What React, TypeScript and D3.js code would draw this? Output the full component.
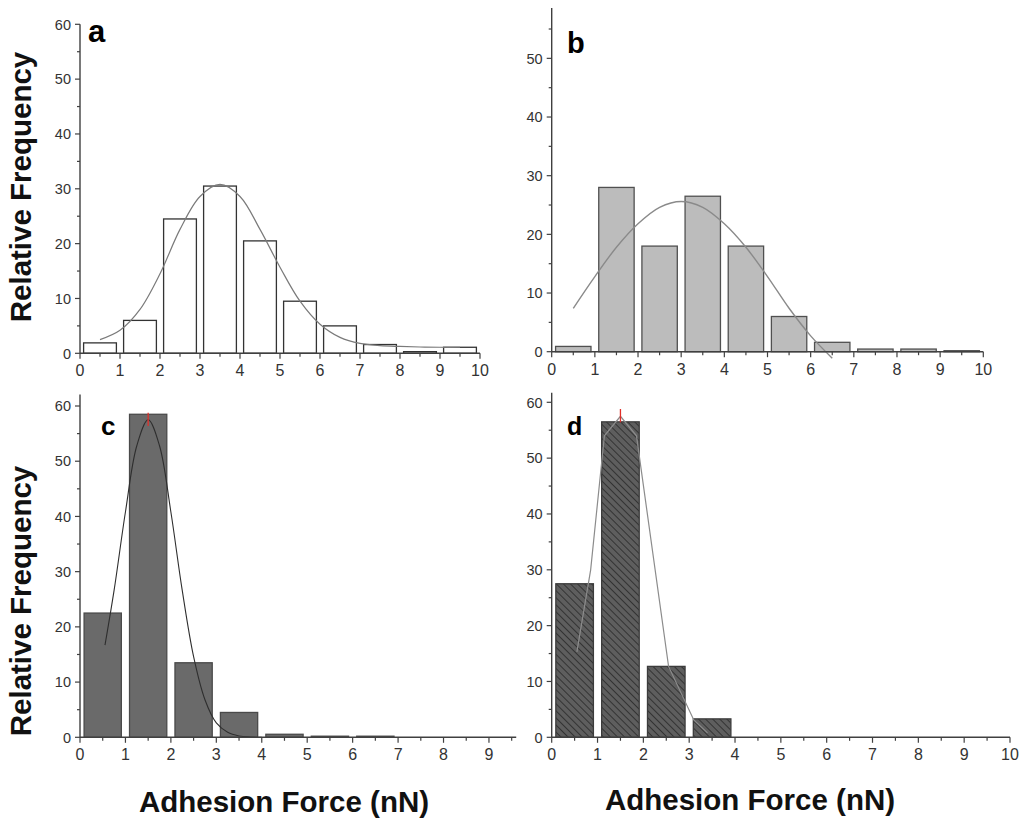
import React from "react";
import * as d3 from "d3";

// ---------- data ----------
const binStarts = [0, 1, 2, 3, 4, 5, 6, 7, 8, 9];
const freqA = [1.9, 6.0, 24.5, 30.5, 20.5, 9.5, 5.0, 1.6, 0.3, 1.1];
const freqB = [0.9, 28.0, 18.0, 26.5, 18.0, 6.0, 1.6, 0.45, 0.45, 0.17];
const freqC = [22.5, 58.5, 13.5, 4.5, 0.55, 0.2, 0.2];
const freqD = [27.5, 56.5, 12.7, 3.3];

const fitAx = [0.5, 1, 1.5, 2, 2.5, 3, 3.5, 4, 4.5, 5, 5.5, 6, 6.5, 7, 7.5, 8, 8.5, 9, 9.5];
const fitAy = [2.5, 4.2, 8.0, 14.5, 22.6, 28.6, 30.8, 28.6, 22.6, 15.7, 9.5, 5.3, 2.9, 1.8, 1.4, 1.25, 1.15, 1.1, 1.1];
const fitBx = [0.5, 1, 1.5, 2, 2.5, 3, 3.5, 4, 4.5, 5, 5.5, 6, 6.5];
const fitBy = [7.4, 12.8, 17.8, 21.8, 24.6, 25.6, 24.6, 21.8, 17.8, 12.8, 7.4, 2.7, -1.1];
const fitCx = [0.55, 0.75, 1, 1.25, 1.5, 1.75, 2, 2.25, 2.5, 2.75, 3, 3.25, 3.5, 3.75, 4];
const fitCy = [16.7, 26.6, 40.8, 52.8, 57.5, 52.8, 40.8, 26.6, 14.6, 6.8, 2.6, 0.9, 0.25, 0.05, 0];
const fitDx = [0.55, 0.85, 1.15, 1.5, 1.85, 2.55, 3.1, 3.4];
const fitDy = [15.3, 30.0, 54.0, 57.5, 54.0, 12.7, 3.1, 0.8];

const xTicks10 = [0, 1, 2, 3, 4, 5, 6, 7, 8, 9, 10];
const xTicks9 = [0, 1, 2, 3, 4, 5, 6, 7, 8, 9];
const yTicks60 = [0, 10, 20, 30, 40, 50, 60];
const yTicks50 = [0, 10, 20, 30, 40, 50];

const yTitle = "Relative Frequency";
const xTitle = "Adhesion Force (nN)";

const FONT = "'Liberation Sans', Arial, Helvetica, sans-serif";

type PanelCfg = {
  letter: string;
  letterX: number;
  letterY: number;
  letterSize: number;
  xPx: [number, number]; // px for value 0 and 10
  yPx: [number, number]; // px for value 0 and 60
  xEnd: number;
  yEnd: number;
  xTicks: number[];
  yTicks: number[];
  freq: number[];
  fitX: number[];
  fitY: number[];
  fill: string;
  stroke: string;
  fitColor: string;
  fitWidth: number;
  smooth: boolean;
  redMark: boolean;
};

const panels: PanelCfg[] = [
  {
    letter: "a", letterX: 88, letterY: 42, letterSize: 31,
    xPx: [80, 480], yPx: [353.3, 24.3], xEnd: 10, yEnd: 60,
    xTicks: xTicks10, yTicks: yTicks60, freq: freqA, fitX: fitAx, fitY: fitAy,
    fill: "#ffffff", stroke: "#333333", fitColor: "#7a7a7a", fitWidth: 1.2, smooth: true, redMark: false,
  },
  {
    letter: "b", letterX: 567, letterY: 53, letterSize: 29,
    xPx: [551.7, 983.3], yPx: [351.7, 351.7 - 6 * 58.67], xEnd: 10, yEnd: 58.6,
    xTicks: xTicks10, yTicks: yTicks50, freq: freqB, fitX: fitBx, fitY: fitBy,
    fill: "#bcbcbc", stroke: "#505050", fitColor: "#8a8a8a", fitWidth: 1.4, smooth: true, redMark: false,
  },
  {
    letter: "c", letterX: 101, letterY: 435, letterSize: 26,
    xPx: [80, 80 + 454.4], yPx: [737.3, 406], xEnd: 9.6, yEnd: 62.1,
    xTicks: xTicks9, yTicks: yTicks60, freq: freqC, fitX: fitCx, fitY: fitCy,
    fill: "#6a6a6a", stroke: "#4a4a4a", fitColor: "#2e2e2e", fitWidth: 1.1, smooth: true, redMark: true,
  },
  {
    letter: "d", letterX: 567, letterY: 435, letterSize: 25,
    xPx: [551.7, 1010], yPx: [737.3, 402.3], xEnd: 10, yEnd: 61.7,
    xTicks: xTicks10, yTicks: yTicks60, freq: freqD, fitX: fitDx, fitY: fitDy,
    fill: "url(#hatchD)", stroke: "#3c3c3c", fitColor: "#8c8c8c", fitWidth: 1.2, smooth: false, redMark: true,
  },
];

function Panel({ cfg }: { cfg: PanelCfg }) {
  const x = d3.scaleLinear().domain([0, 10]).range(cfg.xPx);
  const y = d3.scaleLinear().domain([0, 60]).range(cfg.yPx);
  const y0 = y(0);
  const x0 = x(0);
  const pad = 0.09;
  const line = d3
    .line<number>()
    .x((_, i) => x(cfg.fitX[i]))
    .y((v) => y(v))
    .curve(cfg.smooth ? d3.curveCatmullRom.alpha(0.5) : d3.curveLinear);
  const xMinor = d3.range(0, cfg.xEnd + 0.001, 0.5);
  const yMinor = d3.range(5, cfg.yEnd, 10);
  const axisColor = "#404040";
  const peakIdx = cfg.fitY.indexOf(d3.max(cfg.fitY) as number);
  return (
    <g>
      {cfg.freq.map((v, i) => (
        <rect
          key={i}
          x={x(binStarts[i] + pad)}
          y={y(v)}
          width={x(binStarts[i] + 1 - pad) - x(binStarts[i] + pad)}
          height={Math.max(0, y0 - y(v))}
          fill={cfg.fill}
          stroke={cfg.stroke}
          strokeWidth={1.3}
        />
      ))}
      <path d={line(cfg.fitY) || ""} fill="none" stroke={cfg.fitColor} strokeWidth={cfg.fitWidth} />
      {cfg.redMark && (
        <line
          x1={x(cfg.fitX[peakIdx])}
          x2={x(cfg.fitX[peakIdx])}
          y1={y(cfg.fitY[peakIdx] - 1.1)}
          y2={y(cfg.fitY[peakIdx] + 1.3)}
          stroke="#e0302a"
          strokeWidth={1.3}
        />
      )}
      {/* axes */}
      <line x1={x0} x2={x0} y1={y0} y2={y(cfg.yEnd)} stroke={axisColor} strokeWidth={1.4} />
      <line x1={x0} x2={x(cfg.xEnd)} y1={y0} y2={y0} stroke={axisColor} strokeWidth={1.4} />
      {xMinor.map((t) => (
        <line key={"xm" + t} x1={x(t)} x2={x(t)} y1={y0} y2={y0 + (Number.isInteger(t) ? 5.5 : 3.5)} stroke={axisColor} strokeWidth={1.2} />
      ))}
      {cfg.yTicks.map((t) => (
        <line key={"yM" + t} x1={x0 - 5} x2={x0} y1={y(t)} y2={y(t)} stroke={axisColor} strokeWidth={1.2} />
      ))}
      {yMinor.map((t) => (
        <line key={"ym" + t} x1={x0 - 3} x2={x0} y1={y(t)} y2={y(t)} stroke={axisColor} strokeWidth={1.2} />
      ))}
      {cfg.xTicks.map((t) => (
        <text key={"xl" + t} x={x(t)} y={y0 + 23} textAnchor="middle" fontSize={16} fill="#333" fontFamily={FONT}>
          {t}
        </text>
      ))}
      {cfg.yTicks.map((t) => (
        <text key={"yl" + t} x={x0 - 9} y={y(t)} dy="0.36em" textAnchor="end" fontSize={14.5} fill="#333" fontFamily={FONT}>
          {t}
        </text>
      ))}
      <text x={cfg.letterX} y={cfg.letterY} fontSize={cfg.letterSize} fontWeight="bold" fill="#000" fontFamily={FONT}>
        {cfg.letter}
      </text>
    </g>
  );
}

export default function App() {
  return (
    <svg
      width={1023}
      height={824}
      viewBox="0 0 1023 824"
      style={{ position: "absolute", left: 0, top: 0, background: "#fff" }}
    >
      <defs>
        <pattern id="hatchD" patternUnits="userSpaceOnUse" width={5} height={5} patternTransform="rotate(-45)">
          <rect width={5} height={5} fill="#5e5e5e" />
          <line x1={0} y1={0} x2={0} y2={5} stroke="#2e2e2e" strokeWidth={1.8} />
        </pattern>
      </defs>
      <rect width={1023} height={824} fill="#fff" />
      {panels.map((p, i) => (
        <Panel key={i} cfg={p} />
      ))}
      <text transform="translate(31,187) rotate(-90)" textAnchor="middle" fontSize={29.5} fontWeight="bold" fill="#111" fontFamily={FONT}>
        {yTitle}
      </text>
      <text transform="translate(31,601) rotate(-90)" textAnchor="middle" fontSize={29.5} fontWeight="bold" fill="#111" fontFamily={FONT}>
        {yTitle}
      </text>
      <text x={284} y={812} textAnchor="middle" fontSize={29.5} fontWeight="bold" fill="#111" fontFamily={FONT}>
        {xTitle}
      </text>
      <text x={750} y={810} textAnchor="middle" fontSize={29.5} fontWeight="bold" fill="#111" fontFamily={FONT}>
        {xTitle}
      </text>
    </svg>
  );
}
